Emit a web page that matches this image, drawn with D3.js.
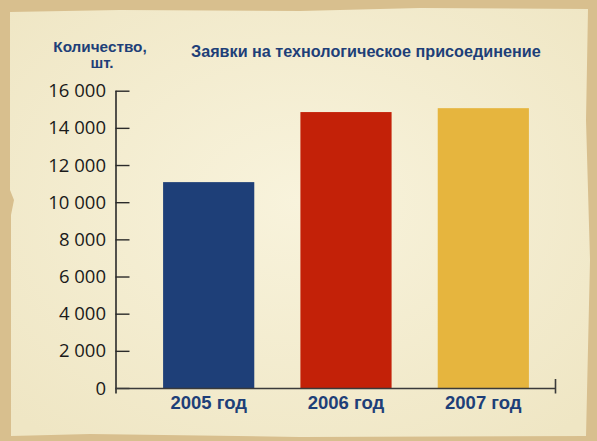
<!DOCTYPE html>
<html><head><meta charset="utf-8">
<script src="https://cdn.jsdelivr.net/npm/d3@7"></script>
<style>html,body{margin:0;padding:0;background:#d8bf8e;}svg{display:block;}</style>
</head><body>
<script>
const categories = ["2005 год", "2006 год", "2007 год"];
const values = [11080, 14850, 15060];
const barColors = ["#1e3f78", "#c32108", "#e6b53e"];
const tickValues = [0, 2000, 4000, 6000, 8000, 10000, 12000, 14000, 16000];
const tickLabels = ["0", "2 000", "4 000", "6 000", "8 000", "10 000", "12 000", "14 000", "16 000"];
const title = "Заявки на технологическое присоединение";
const yTitle = ["Количество,", "шт."];

const W = 597, H = 441;
const svg = d3.select("body").append("svg").attr("width", W).attr("height", H);

// parchment background
svg.append("rect").attr("width", W).attr("height", H).attr("fill", "#d8bf8e");
const paper = d3.path();
paper.moveTo(10, 12); paper.lineTo(120, 10); paper.lineTo(300, 11); paper.lineTo(420, 8);
paper.lineTo(588, 9); paper.lineTo(586, 120); paper.lineTo(590, 260); paper.lineTo(586, 436);
paper.lineTo(300, 437); paper.lineTo(90, 434); paper.lineTo(11, 436); paper.lineTo(11, 215);
paper.lineTo(14, 200); paper.lineTo(10, 190); paper.closePath();
const defs = svg.append("defs");
const rg = defs.append("radialGradient").attr("id", "pg").attr("cx", "50%").attr("cy", "45%").attr("r", "70%");
rg.append("stop").attr("offset", "0%").attr("stop-color", "#f8f3dc");
rg.append("stop").attr("offset", "100%").attr("stop-color", "#efe6c4");
svg.append("path").attr("d", paper.toString()).attr("fill", "url(#pg)");

const x = d3.scaleBand().domain(categories).range([121.9, 570.1]).paddingInner(0.336).paddingOuter(0.3);
const y = d3.scaleLinear().domain([0, 16000]).range([388, 90.7]);

// bars
svg.selectAll("rect.bar").data(values).join("rect").attr("class", "bar")
  .attr("x", (d, i) => x(categories[i]))
  .attr("width", x.bandwidth())
  .attr("y", d => y(d))
  .attr("height", d => y(0) - y(d))
  .attr("fill", (d, i) => barColors[i]);

// y axis
const yAxis = d3.axisRight(y).tickValues(tickValues).tickSize(14)
  .tickFormat((d, i) => "");
const gy = svg.append("g").attr("transform", "translate(115.5,0)").call(yAxis);
gy.select(".domain").attr("d", "M0.5,90.7V393.5").attr("stroke", "#2a2a2a").attr("stroke-width", 1.6);
gy.selectAll(".tick line").attr("stroke", "#2a2a2a").attr("stroke-width", 1.4);
svg.append("g").selectAll("text").data(tickValues).join("text")
  .attr("x", 106).attr("y", d => y(d) + 6.5)
  .attr("text-anchor", "end")
  .attr("font-family", "'Open Sans', sans-serif").attr("font-size", 18.5)
  .attr("fill", "#1a1a1a")
  .text((d, i) => tickLabels[i]);

// x axis
const xAxis = d3.axisBottom(x).tickSize(0).tickFormat("");
const gx = svg.append("g").attr("transform", "translate(0,388)").call(xAxis);
gx.select(".domain").attr("d", "M115.5,0.5H555.5M555.5,-9V5.5").attr("stroke", "#3a3a3a").attr("stroke-width", 1.6).attr("fill", "none");
svg.append("g").selectAll("text").data(categories).join("text")
  .attr("x", d => x(d) + x.bandwidth() / 2).attr("y", 409)
  .attr("text-anchor", "middle")
  .attr("font-family", "'Liberation Sans', Arial, sans-serif").attr("font-weight", "bold").attr("font-size", 18.5)
  .attr("fill", "#1e3f78")
  .text(d => d);

// titles
svg.append("text").attr("x", 191).attr("y", 57)
  .attr("font-family", "'Liberation Sans', Arial, sans-serif").attr("font-weight", "bold").attr("font-size", 16.2)
  .attr("fill", "#1e3f78").text(title);
svg.append("text").attr("x", 100).attr("y", 52).attr("text-anchor", "middle")
  .attr("font-family", "'Liberation Sans', Arial, sans-serif").attr("font-weight", "bold").attr("font-size", 15.3)
  .attr("fill", "#1e3f78").text(yTitle[0]);
svg.append("text").attr("x", 102).attr("y", 68).attr("text-anchor", "middle")
  .attr("font-family", "'Liberation Sans', Arial, sans-serif").attr("font-weight", "bold").attr("font-size", 15.3)
  .attr("fill", "#1e3f78").text(yTitle[1]);
</script>
</body></html>
